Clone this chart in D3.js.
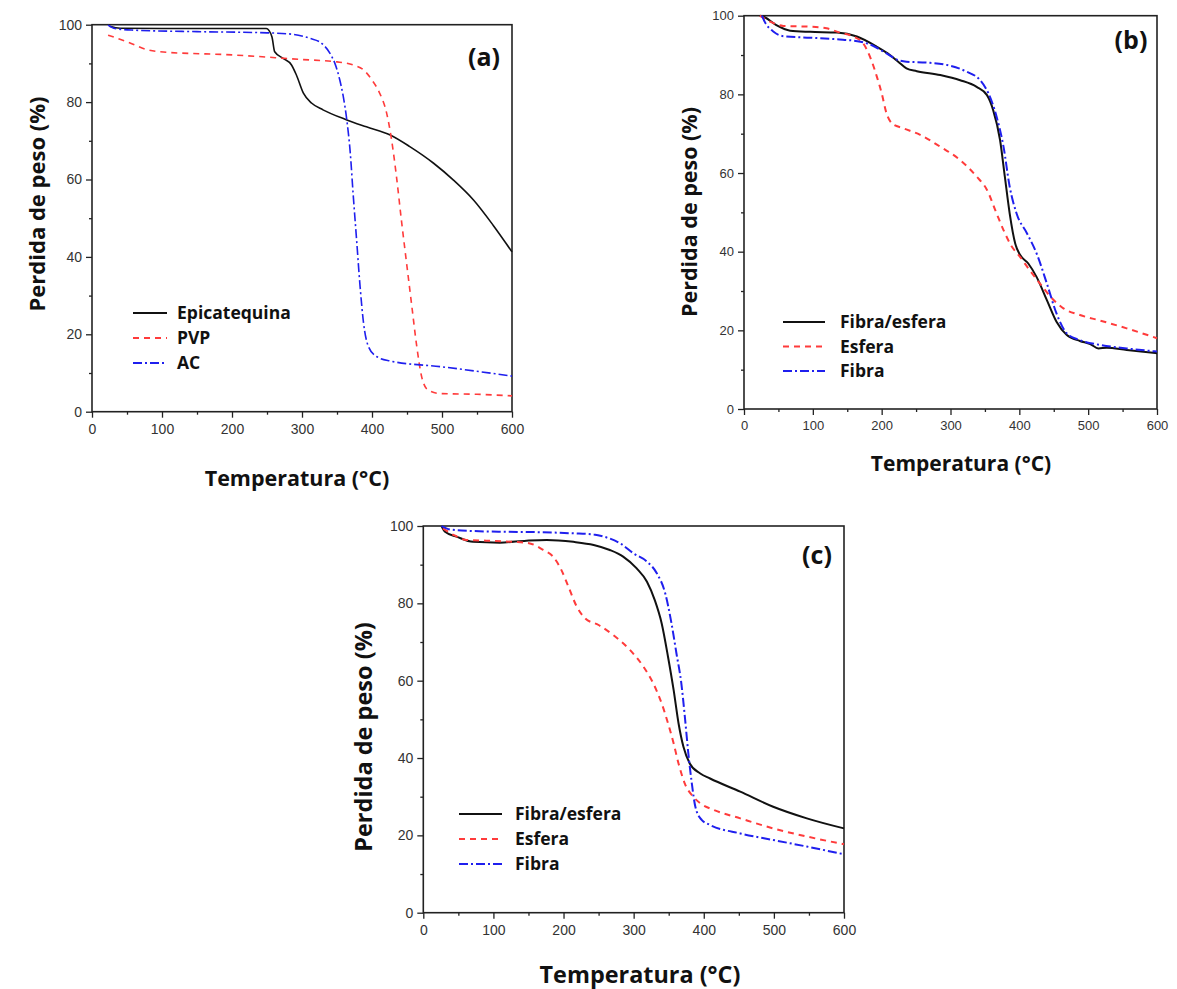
<!DOCTYPE html>
<html>
<head>
<meta charset="utf-8">
<script src="https://cdn.jsdelivr.net/npm/d3@7"></script>
<style>
  body { margin: 0; background: #fff; }
  svg { display: block; }
</style>
</head>
<body>
<script>
// ---- data: [temperature (°C), weight (%)] ----
const aEpicatequina = [[25,99.6],[40,99.1],[100,99],[200,99],[249,99],[257,96.9],[261,93],[273,91.3],[285,89.6],[292,87],[302,82.3],[314,79.7],[330,78],[364,75.4],[392,73.6],[426,71.5],[454,68.5],[488,64.2],[516,59.9],[545,54.7],[573,48.2],[600,41.3]];
const aPVP = [[23,97.3],[50,95.6],[78,93.6],[97,93],[200,92.2],[300,91],[350,90.4],[373,89.6],[388,88.3],[400,85.7],[411,82.3],[421,77.1],[428,70.2],[435,60.7],[442,49.5],[450,37.5],[457,27.1],[464,16.8],[471,9],[480,5.6],[497,4.7],[550,4.5],[600,4.1]];
const aAC = [[23,99.9],[33,99],[59,98.6],[150,98.2],[250,97.9],[288,97.5],[311,96.5],[328,95.2],[340,92.6],[347,90],[354,85.7],[359,81.4],[364,75.4],[369,66.8],[373,56.4],[378,44.4],[383,32.3],[388,22.8],[395,16.8],[407,14.2],[426,13.1],[500,11.6],[600,9.2]];

const bFibraEsfera = [[23,100],[30,99.6],[47,97.6],[67,96.2],[96,95.9],[135,95.7],[164,94.7],[193,92.1],[212,90],[224,88.3],[236,86.6],[251,85.9],[285,84.9],[314,83.6],[338,81.9],[353,79.8],[362,76],[372,68.4],[379,59],[386,49.7],[394,42.1],[401,39.2],[413,37],[425,33.6],[440,27.7],[454,22.2],[469,18.8],[488,17.3],[503,16.5],[515,15.4],[527,15.6],[556,15],[600,14.2]];
const bEsfera = [[23,100],[38,98.5],[57,97.4],[96,97.2],[120,96.8],[139,95.7],[159,94.7],[173,93],[185,88.7],[193,84.5],[200,80.3],[207,75.2],[215,72.6],[231,71.4],[256,69.7],[285,66.7],[314,63.3],[338,59.1],[353,55.7],[367,49.7],[377,45.5],[389,41.3],[401,38.7],[415,35.3],[430,31.9],[445,28.6],[464,25.6],[488,23.9],[517,22.5],[556,20.5],[600,18]];
const bFibra = [[26,100],[30,98.5],[43,95.9],[57,94.8],[96,94.4],[135,94],[169,93.4],[188,92.3],[207,90.4],[224,88.7],[236,88.3],[265,88.1],[294,87.5],[323,85.8],[343,83.6],[355,80.3],[367,74.3],[377,66.7],[386,56.5],[396,49.7],[411,44.7],[425,39.6],[440,31.9],[454,24.3],[469,19.2],[488,17.5],[517,16.3],[556,15.4],[600,14.6]];

const cFibraEsfera = [[26,100],[31,98.5],[48,97.2],[71,95.9],[109,95.7],[147,96.2],[176,96.4],[214,95.9],[243,95.1],[266,93.8],[285,92.1],[304,89.1],[319,85.6],[330,80.9],[340,74.8],[349,66.2],[357,57.6],[364,49],[371,42.9],[380,38.6],[395,36],[409,34.7],[452,31.3],[499,27.4],[547,24.4],[600,21.8]];
const cEsfera = [[28,99.4],[43,97.7],[62,96.4],[90,96.2],[128,95.9],[152,95.5],[171,93.8],[185,92.1],[197,88.6],[207,84.3],[219,79.1],[231,76.1],[250,74.4],[271,71.8],[295,67.9],[314,63.6],[328,59.3],[340,54.1],[349,49],[357,43.8],[364,38.6],[373,33.4],[385,30],[395,28.3],[414,26.6],[452,24.4],[499,21.8],[547,19.7],[600,17.7]];
const cFibra = [[26,100],[38,99.1],[71,98.7],[119,98.5],[166,98.4],[214,98.1],[243,97.8],[262,97],[281,95.5],[300,92.9],[319,90.8],[333,87.8],[345,82.6],[354,74.8],[361,67.1],[368,59.3],[373,50.7],[378,41.2],[383,33.4],[388,27.4],[397,24],[409,22.7],[452,20.5],[499,18.8],[547,17.1],[600,15.1]];

const xTicks = [0, 100, 200, 300, 400, 500, 600];
const yTicks = [0, 20, 40, 60, 80, 100];
const legendA = ['Epicatequina', 'PVP', 'AC'];
const legendBC = ['Fibra/esfera', 'Esfera', 'Fibra'];

const W = 1177, H = 989;
const svg = d3.select('body').append('svg').attr('width', W).attr('height', H);

const styles = [
  { color: '#111', dash: null },
  { color: '#ff3b3b', dash: '6,5' },
  { color: '#1f1fee', dash: '9,3,2,3' }
];

function drawPanel(p) {
  const x = d3.scaleLinear().domain([0, 600]).range([p.left, p.right]);
  const y = d3.scaleLinear().domain([0, 100]).range([p.bottom, p.top]);
  const g = svg.append('g');

  // minor ticks
  g.append('g').attr('transform', `translate(0,${p.bottom})`)
    .call(d3.axisBottom(x).tickValues(d3.range(50, 600, 100)).tickSize(3).tickFormat(''))
    .call(s => s.select('.domain').remove());
  g.append('g').attr('transform', `translate(${p.left},0)`)
    .call(d3.axisLeft(y).tickValues(d3.range(10, 100, 20)).tickSize(3).tickFormat(''))
    .call(s => s.select('.domain').remove());

  // major axes
  const xa = g.append('g').attr('transform', `translate(0,${p.bottom})`)
    .call(d3.axisBottom(x).tickValues(xTicks).tickSize(6).tickPadding(6).tickSizeOuter(0));
  const ya = g.append('g').attr('transform', `translate(${p.left},0)`)
    .call(d3.axisLeft(y).tickValues(yTicks).tickSize(6).tickPadding(4).tickSizeOuter(0));
  [xa, ya].forEach(a => {
    a.selectAll('text').attr('font-family', 'Liberation Sans, Arial, sans-serif')
      .attr('font-size', p.tick).attr('fill', '#333');
  });
  g.selectAll('.tick line').attr('stroke', '#222').attr('stroke-width', 1.3);
  g.selectAll('.domain').remove();

  // frame
  g.append('rect').attr('x', p.left).attr('y', p.top)
    .attr('width', p.right - p.left).attr('height', p.bottom - p.top)
    .attr('fill', 'none').attr('stroke', '#222').attr('stroke-width', 1.6);

  const line = d3.line().x(d => x(d[0])).y(d => y(d[1])).curve(d3.curveMonotoneX);
  p.series.forEach((s, i) => {
    g.append('path').datum(s).attr('d', line).attr('fill', 'none')
      .attr('stroke', styles[i].color).attr('stroke-width', p.lw)
      .attr('stroke-dasharray', styles[i].dash);
  });

  // legend
  p.names.forEach((n, i) => {
    const ly = p.leg.y + i * p.leg.dy;
    g.append('line').attr('x1', p.leg.x1).attr('x2', p.leg.x2).attr('y1', ly).attr('y2', ly)
      .attr('stroke', styles[i].color).attr('stroke-width', p.lw + 0.2)
      .attr('stroke-dasharray', styles[i].dash);
    g.append('text').attr('x', p.leg.tx).attr('y', ly + 6)
      .attr('font-family', 'Open Sans, sans-serif').attr('font-weight', 700)
      .attr('font-size', p.leg.fs).attr('fill', '#111').text(n);
  });

  // panel tag
  g.append('text').attr('x', p.tag[0]).attr('y', p.tag[1]).attr('text-anchor', 'middle')
    .attr('font-family', 'Open Sans, sans-serif').attr('font-weight', 700)
    .attr('font-size', 25).attr('fill', '#111').text(p.tagText);

  // axis titles
  g.append('text').attr('x', p.xl[0]).attr('y', p.xl[1]).attr('text-anchor', 'middle')
    .attr('font-family', 'Open Sans, sans-serif').attr('font-weight', 700)
    .attr('font-size', p.xl[2]).attr('fill', '#111').text('Temperatura (°C)');
  g.append('text').attr('transform', `translate(${p.yl[0]},${p.yl[1]}) rotate(-90)`)
    .attr('text-anchor', 'middle')
    .attr('font-family', 'Open Sans, sans-serif').attr('font-weight', 700)
    .attr('font-size', p.yl[2]).attr('fill', '#111').text('Perdida de peso (%)');
}

drawPanel({
  left: 92, right: 512, top: 24.7, bottom: 411.7, tick: 14, lw: 1.6,
  series: [aEpicatequina, aPVP, aAC], names: legendA,
  leg: { x1: 133, x2: 167, tx: 177, y: 313, dy: 25, fs: 17.5 },
  tag: [484, 66], tagText: '(a)',
  xl: [297, 486, 21.5], yl: [45, 204, 22]
});
drawPanel({
  left: 744, right: 1157, top: 15.7, bottom: 409, tick: 13, lw: 2,
  series: [bFibraEsfera, bEsfera, bFibra], names: legendBC,
  leg: { x1: 783, x2: 825, tx: 840, y: 322, dy: 24.5, fs: 17.5 },
  tag: [1131, 49], tagText: '(b)',
  xl: [961, 471, 21], yl: [697, 212, 21.5]
});
drawPanel({
  left: 423.3, right: 844, top: 526, bottom: 912.7, tick: 14, lw: 2,
  series: [cFibraEsfera, cEsfera, cFibra], names: legendBC,
  leg: { x1: 459, x2: 502, tx: 515, y: 814, dy: 25, fs: 17.5 },
  tag: [817, 564], tagText: '(c)',
  xl: [640, 983, 23.4], yl: [372, 737, 23.5]
});
</script>
</body>
</html>
